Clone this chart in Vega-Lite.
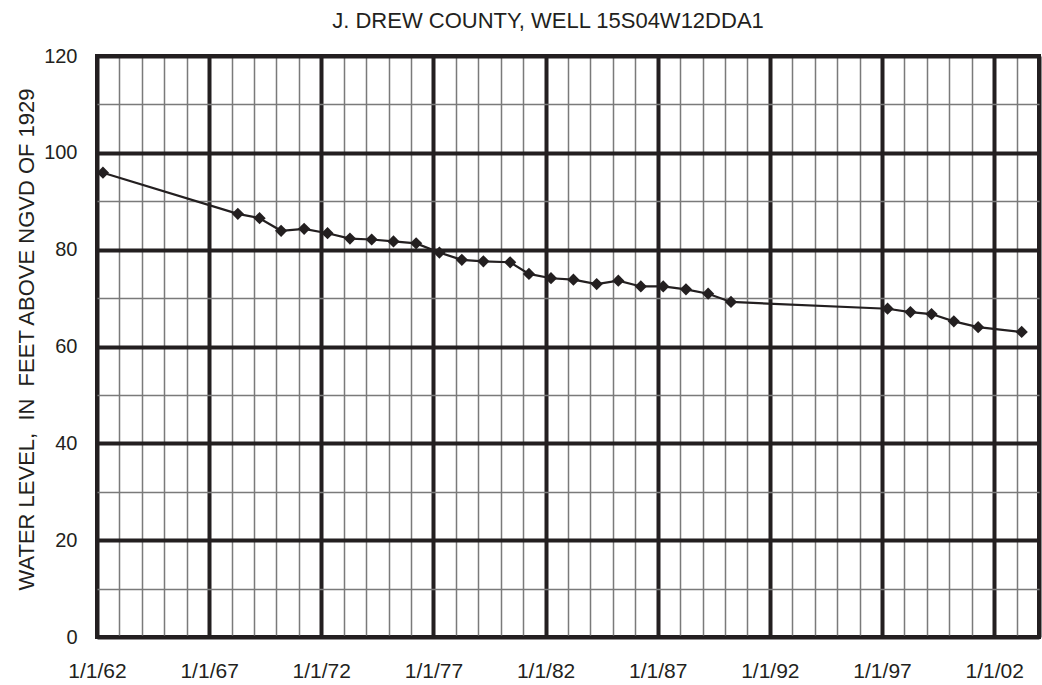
{
  "$schema": "https://vega.github.io/schema/vega-lite/v6.json",
  "width": 942,
  "height": 581,
  "autosize": "none",
  "padding": {"left": 97, "top": 56, "right": 3, "bottom": 48},
  "background": "white",
  "title": {
    "text": "J. DREW COUNTY, WELL 15S04W12DDA1",
    "font": "Liberation Sans",
    "fontSize": 22,
    "fontWeight": "normal",
    "color": "#231f20",
    "anchor": "middle",
    "dx": -20,
    "offset": 27,
    "dy": 31,
    "baseline": "alphabetic"
  },
  "data": {
    "values": [
      {"date": "1962-04-08", "level": 95.9},
      {"date": "1968-04-12", "level": 87.4},
      {"date": "1969-04-01", "level": 86.5},
      {"date": "1970-03-18", "level": 83.9},
      {"date": "1971-03-28", "level": 84.3},
      {"date": "1972-04-12", "level": 83.4},
      {"date": "1973-04-12", "level": 82.3},
      {"date": "1974-04-01", "level": 82.1},
      {"date": "1975-03-22", "level": 81.7},
      {"date": "1976-03-25", "level": 81.3},
      {"date": "1977-04-08", "level": 79.4},
      {"date": "1978-04-08", "level": 77.9},
      {"date": "1979-03-25", "level": 77.6},
      {"date": "1980-06-03", "level": 77.4},
      {"date": "1981-04-05", "level": 75.0},
      {"date": "1982-03-30", "level": 74.1},
      {"date": "1983-03-30", "level": 73.8},
      {"date": "1984-04-12", "level": 72.9},
      {"date": "1985-03-30", "level": 73.6},
      {"date": "1986-04-01", "level": 72.4},
      {"date": "1987-04-01", "level": 72.4},
      {"date": "1988-04-05", "level": 71.8},
      {"date": "1989-04-01", "level": 70.9},
      {"date": "1990-04-08", "level": 69.2},
      {"date": "1997-04-01", "level": 67.8},
      {"date": "1998-04-08", "level": 67.1},
      {"date": "1999-03-18", "level": 66.7},
      {"date": "2000-03-15", "level": 65.2},
      {"date": "2001-04-15", "level": 64.0},
      {"date": "2003-03-25", "level": 63.0}
    ]
  },
  "mark": {
    "type": "line",
    "color": "#231f20",
    "strokeWidth": 2.2,
    "point": {"shape": "diamond", "size": 150, "filled": true, "color": "#231f20", "opacity": 1}
  },
  "encoding": {
    "x": {
      "field": "date",
      "type": "temporal",
      "scale": {"domain": [{"year": 1962, "month": 1, "date": 1}, {"year": 2004, "month": 1, "date": 1}], "nice": false},
      "axis": {
        "title": null,
        "tickCount": {"interval": "year", "step": 1},
        "grid": true,
        "gridColor": {"condition": {"test": "year(datum.value) % 5 === 2 || year(datum.value) === 2004", "value": "#231f20"}, "value": "#7a7a7a"},
        "gridWidth": {"condition": {"test": "year(datum.value) % 5 === 2 || year(datum.value) === 2004", "value": 4}, "value": 1.5},
        "gridOpacity": 1,
        "labelExpr": "year(datum.value) % 5 === 2 && year(datum.value) < 2004 ? timeFormat(datum.value, '%-m/%-d/%y') : ''",
        "labelOverlap": false,
        "labelFlush": false,
        "labelBound": false,
        "ticks": false,
        "tickSize": 0,
        "domain": false,
        "labelPadding": 23,
        "labelFont": "Liberation Sans",
        "labelFontSize": 21,
        "labelColor": "#231f20"
      }
    },
    "y": {
      "field": "level",
      "type": "quantitative",
      "scale": {"domain": [0, 120], "nice": false, "zero": true},
      "axis": {
        "title": "WATER LEVEL,\u00a0\u00a0IN\u00a0\u00a0FEET ABOVE NGVD OF 1929",
        "titleFont": "Liberation Sans",
        "titleFontSize": 22,
        "titleFontWeight": "normal",
        "titleColor": "#231f20",
        "titleAngle": -90,
        "titleAlign": "center",
        "titleBaseline": "alphabetic",
        "titleX": -64,
        "titleY": 283,
        "values": [0, 10, 20, 30, 40, 50, 60, 70, 80, 90, 100, 110, 120],
        "grid": true,
        "gridColor": {"condition": {"test": "datum.value % 20 === 0", "value": "#231f20"}, "value": "#7a7a7a"},
        "gridWidth": {"condition": {"test": "datum.value % 20 === 0", "value": 4}, "value": 1.5},
        "gridOpacity": 1,
        "labelExpr": "datum.value % 20 === 0 ? datum.label : ''",
        "labelOverlap": false,
        "labelFlush": false,
        "labelBound": false,
        "ticks": false,
        "tickSize": 0,
        "domain": false,
        "labelPadding": 20,
        "labelFont": "Liberation Sans",
        "labelFontSize": 20,
        "labelColor": "#231f20"
      }
    }
  },
  "config": {
    "view": {"stroke": "#231f20", "strokeWidth": 4},
    "font": "Liberation Sans"
  }
}
